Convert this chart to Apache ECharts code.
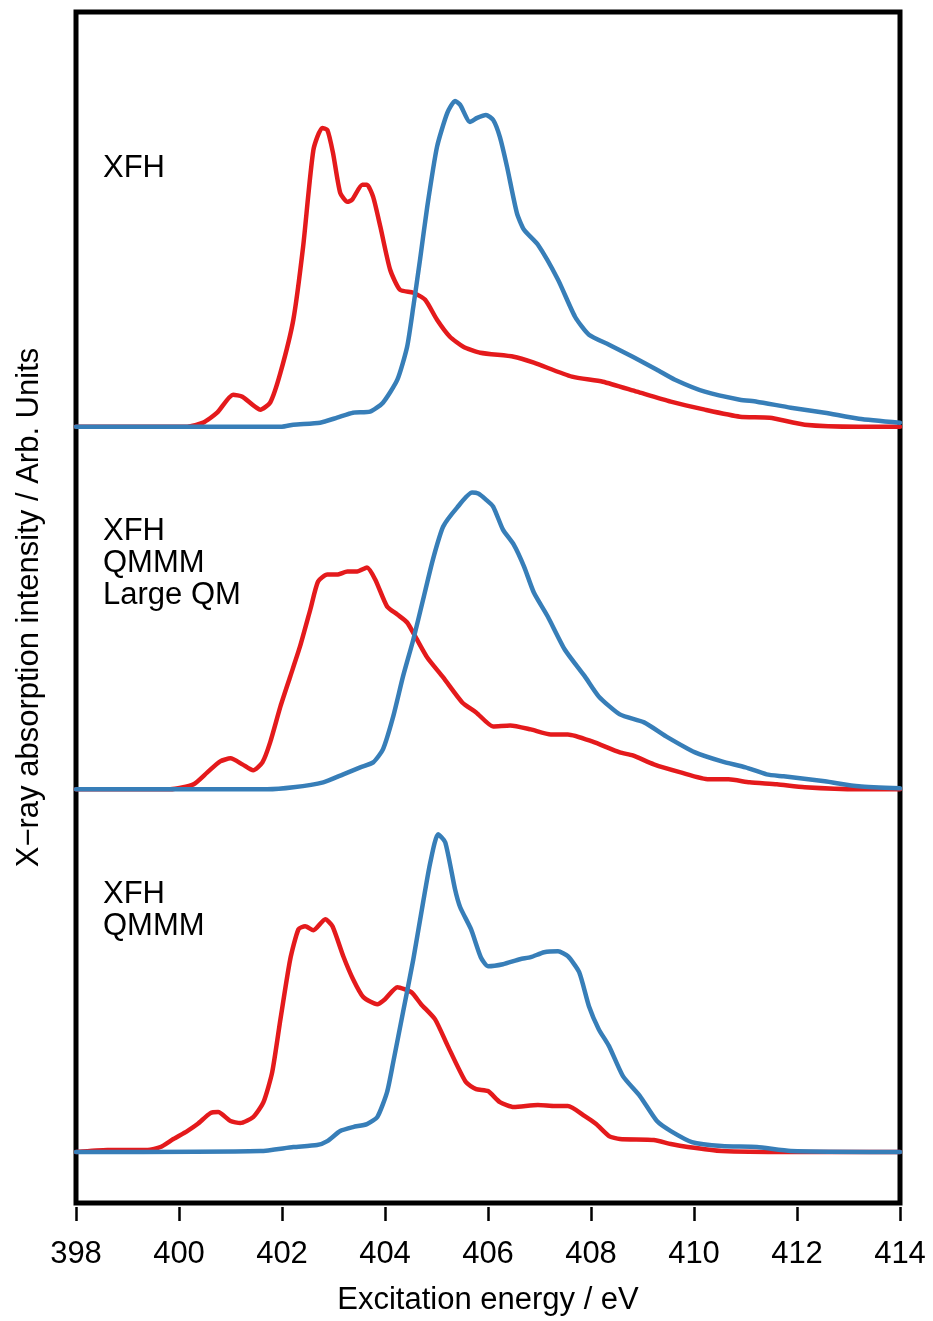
<!DOCTYPE html>
<html>
<head>
<meta charset="utf-8">
<script src="https://cdn.jsdelivr.net/npm/echarts@6/dist/echarts.min.js"></script>
<style>
  html, body { margin: 0; padding: 0; background: #fff; }
  #chart { width: 933px; height: 1321px; }
</style>
</head>
<body>
<div id="chart"></div>
<script>
// Excitation energies (eV) and intensities (arb. units) for each spectrum.
// Each panel is a pair of spectra (red, blue) stacked with a vertical offset.

// Panel 1: XFH
const xfhRedE = [398, 400.0, 400.16, 400.47, 400.74, 401.05, 401.23, 401.58, 401.77, 401.97, 402.22, 402.41, 402.61, 402.78, 402.88, 402.99, 403.13, 403.27, 403.36, 403.56, 403.65, 403.77, 403.91, 404.10, 404.29, 404.55, 404.78, 405.01, 405.26, 405.52, 405.85, 406.50, 406.89, 407.63, 408.23, 408.89, 409.55, 410.21, 410.89, 411.47, 412.15, 413.20, 414];
const xfhRedI = [0, 0, 0, 0.04, 0.14, 0.32, 0.30, 0.17, 0.24, 0.54, 1.07, 1.80, 2.77, 2.99, 2.97, 2.74, 2.34, 2.25, 2.27, 2.42, 2.42, 2.30, 2.00, 1.57, 1.37, 1.34, 1.27, 1.07, 0.90, 0.80, 0.74, 0.70, 0.64, 0.50, 0.45, 0.35, 0.25, 0.17, 0.10, 0.09, 0.02, 0, 0];
const xfhBlueE = [398, 402.0, 402.22, 402.74, 403.07, 403.38, 403.71, 403.96, 404.24, 404.43, 404.55, 404.68, 404.82, 405.01, 405.21, 405.36, 405.46, 405.65, 405.79, 405.96, 406.10, 406.23, 406.37, 406.56, 406.70, 406.97, 407.36, 407.69, 407.96, 408.35, 408.81, 409.28, 409.63, 410.21, 410.89, 411.22, 411.88, 412.54, 413.20, 414];
const xfhBlueI = [0, 0, 0.02, 0.04, 0.09, 0.14, 0.15, 0.24, 0.47, 0.80, 1.20, 1.67, 2.20, 2.80, 3.14, 3.26, 3.22, 3.05, 3.09, 3.12, 3.07, 2.90, 2.60, 2.14, 1.97, 1.82, 1.47, 1.10, 0.92, 0.82, 0.70, 0.57, 0.47, 0.35, 0.27, 0.25, 0.19, 0.14, 0.08, 0.04];

// Panel 2: XFH / QMMM / Large QM
const lqmRedE = [398, 399.83, 400.28, 400.55, 400.80, 401.00, 401.23, 401.44, 401.62, 401.77, 401.97, 402.16, 402.35, 402.55, 402.70, 402.88, 403.07, 403.27, 403.46, 403.65, 403.81, 404.04, 404.24, 404.43, 404.62, 404.82, 405.13, 405.50, 405.77, 406.10, 406.43, 406.83, 407.22, 407.55, 408.02, 408.56, 408.81, 409.22, 409.74, 410.29, 410.67, 411.08, 411.61, 412.15, 413.20, 414];
const lqmRedI = [0, 0, 0.05, 0.17, 0.28, 0.31, 0.25, 0.19, 0.27, 0.47, 0.83, 1.13, 1.43, 1.80, 2.08, 2.15, 2.15, 2.18, 2.18, 2.22, 2.10, 1.83, 1.75, 1.67, 1.50, 1.32, 1.12, 0.87, 0.77, 0.63, 0.64, 0.60, 0.55, 0.55, 0.48, 0.37, 0.34, 0.25, 0.17, 0.10, 0.10, 0.07, 0.05, 0.02, 0, 0];
const lqmBlueE = [398, 401.71, 402.22, 402.80, 403.19, 403.52, 403.77, 403.96, 404.16, 404.35, 404.55, 404.74, 404.93, 405.13, 405.40, 405.69, 405.81, 405.96, 406.10, 406.29, 406.50, 406.70, 406.89, 407.16, 407.49, 407.88, 408.15, 408.56, 409.03, 409.49, 410.02, 410.54, 411.00, 411.41, 411.74, 412.54, 413.20, 414];
const lqmBlueI = [0, 0, 0.02, 0.07, 0.15, 0.22, 0.27, 0.40, 0.73, 1.13, 1.50, 1.90, 2.30, 2.63, 2.82, 2.97, 2.96, 2.90, 2.83, 2.60, 2.45, 2.23, 1.97, 1.73, 1.40, 1.13, 0.93, 0.75, 0.67, 0.52, 0.37, 0.28, 0.22, 0.15, 0.13, 0.08, 0.03, 0.01];

// Panel 3: XFH / QMMM
const qmmRedE = [398, 398.61, 399.39, 399.64, 399.89, 400.16, 400.36, 400.61, 400.76, 401.00, 401.19, 401.44, 401.64, 401.81, 401.97, 402.16, 402.32, 402.45, 402.61, 402.84, 402.98, 403.19, 403.38, 403.58, 403.85, 404.00, 404.24, 404.51, 404.70, 404.97, 405.22, 405.57, 405.77, 406.00, 406.23, 406.50, 406.97, 407.30, 407.55, 407.88, 408.10, 408.35, 408.56, 409.22, 409.55, 409.88, 410.54, 411.88, 414];
const qmmRedI = [0, 0.02, 0.02, 0.05, 0.13, 0.21, 0.28, 0.39, 0.40, 0.31, 0.29, 0.35, 0.50, 0.80, 1.33, 1.93, 2.23, 2.26, 2.22, 2.33, 2.26, 1.96, 1.73, 1.55, 1.48, 1.53, 1.65, 1.60, 1.48, 1.33, 1.06, 0.70, 0.63, 0.61, 0.50, 0.45, 0.47, 0.46, 0.46, 0.36, 0.28, 0.16, 0.13, 0.12, 0.08, 0.05, 0.01, 0, 0];
const qmmBlueE = [398, 401.58, 402.22, 402.68, 402.88, 403.13, 403.38, 403.65, 403.85, 404.04, 404.16, 404.35, 404.55, 404.74, 404.88, 405.03, 405.17, 405.36, 405.46, 405.67, 405.86, 406.00, 406.29, 406.62, 406.83, 407.09, 407.36, 407.55, 407.77, 407.96, 408.15, 408.35, 408.62, 408.95, 409.28, 409.55, 409.96, 410.54, 411.22, 411.88, 414];
const qmmBlueI = [0, 0.01, 0.05, 0.07, 0.11, 0.21, 0.25, 0.28, 0.35, 0.60, 0.90, 1.40, 1.93, 2.50, 2.90, 3.18, 3.10, 2.63, 2.45, 2.23, 1.95, 1.86, 1.88, 1.93, 1.95, 2.00, 2.01, 1.96, 1.80, 1.46, 1.23, 1.06, 0.76, 0.56, 0.31, 0.21, 0.10, 0.06, 0.05, 0.01, 0];

// Vertical offsets of the three panels (top to bottom) and their labels
const panelOffsets = [7.26, 3.63, 0];
const panelLabels = ['XFH', 'XFH\nQMMM\nLarge QM', 'XFH\nQMMM'];

// X axis ticks
const xMin = 398, xMax = 414, xStep = 2;

const RED = '#E41A1C';
const BLUE = '#377EB8';
const FONT = '"Liberation Sans", Arial, Helvetica, sans-serif';

function pairs(es, is, off) {
  return es.map((e, k) => [e, is[k] + off]);
}

const spectra = [
  { e: xfhRedE, i: xfhRedI, off: panelOffsets[0], color: RED },
  { e: lqmRedE, i: lqmRedI, off: panelOffsets[1], color: RED },
  { e: qmmRedE, i: qmmRedI, off: panelOffsets[2], color: RED },
  { e: xfhBlueE, i: xfhBlueI, off: panelOffsets[0], color: BLUE },
  { e: lqmBlueE, i: lqmBlueI, off: panelOffsets[1], color: BLUE },
  { e: qmmBlueE, i: qmmBlueI, off: panelOffsets[2], color: BLUE }
];

const series = spectra.map((s, k) => ({
  type: 'line',
  data: pairs(s.e, s.i, s.off),
  smooth: 0.2,
  showSymbol: false,
  symbol: 'none',
  z: k < 3 ? 2 : 3,
  lineStyle: { color: s.color, width: 4.5, join: 'round', cap: 'round' },
  emphasis: { disabled: true },
  animation: false
}));

// Label positions (pixel y of the first line's centre) for each panel
const labelTops = [168, 531, 894];
const graphics = panelLabels.map((t, k) => ({
  type: 'text',
  left: 103,
  top: labelTops[k] - 16,
  style: {
    text: t,
    font: '31px ' + FONT,
    lineHeight: 32,
    fill: '#000'
  },
  silent: true
}));

const chart = echarts.init(document.getElementById('chart'), null, { renderer: 'canvas' });
chart.setOption({
  backgroundColor: '#fff',
  animation: false,
  grid: {
    left: 76, right: 33, top: 12, bottom: 117,
    show: true, borderColor: '#000', borderWidth: 5, backgroundColor: 'transparent',
    containLabel: false
  },
  xAxis: {
    type: 'value',
    min: xMin, max: xMax, interval: xStep,
    position: 'bottom',
    offset: 4,
    name: 'Excitation energy / eV',
    nameLocation: 'middle',
    nameGap: 78,
    nameTextStyle: { fontFamily: FONT, fontSize: 31, color: '#000' },
    axisLine: { show: false, onZero: false },
    axisTick: { show: true, inside: false, length: 14, lineStyle: { color: '#000', width: 2.5 } },
    axisLabel: { margin: 32, fontFamily: FONT, fontSize: 31, color: '#000' },
    splitLine: { show: false }
  },
  yAxis: {
    type: 'value',
    min: -0.51, max: 11.41,
    name: 'X\u2212ray absorption intensity / Arb. Units',
    nameLocation: 'middle',
    nameRotate: 90,
    nameGap: 31,
    nameTextStyle: { fontFamily: FONT, fontSize: 31, color: '#000' },
    axisLine: { show: false, onZero: false },
    axisTick: { show: false },
    axisLabel: { show: false },
    splitLine: { show: false }
  },
  series: series,
  graphic: graphics
});
</script>
</body>
</html>
